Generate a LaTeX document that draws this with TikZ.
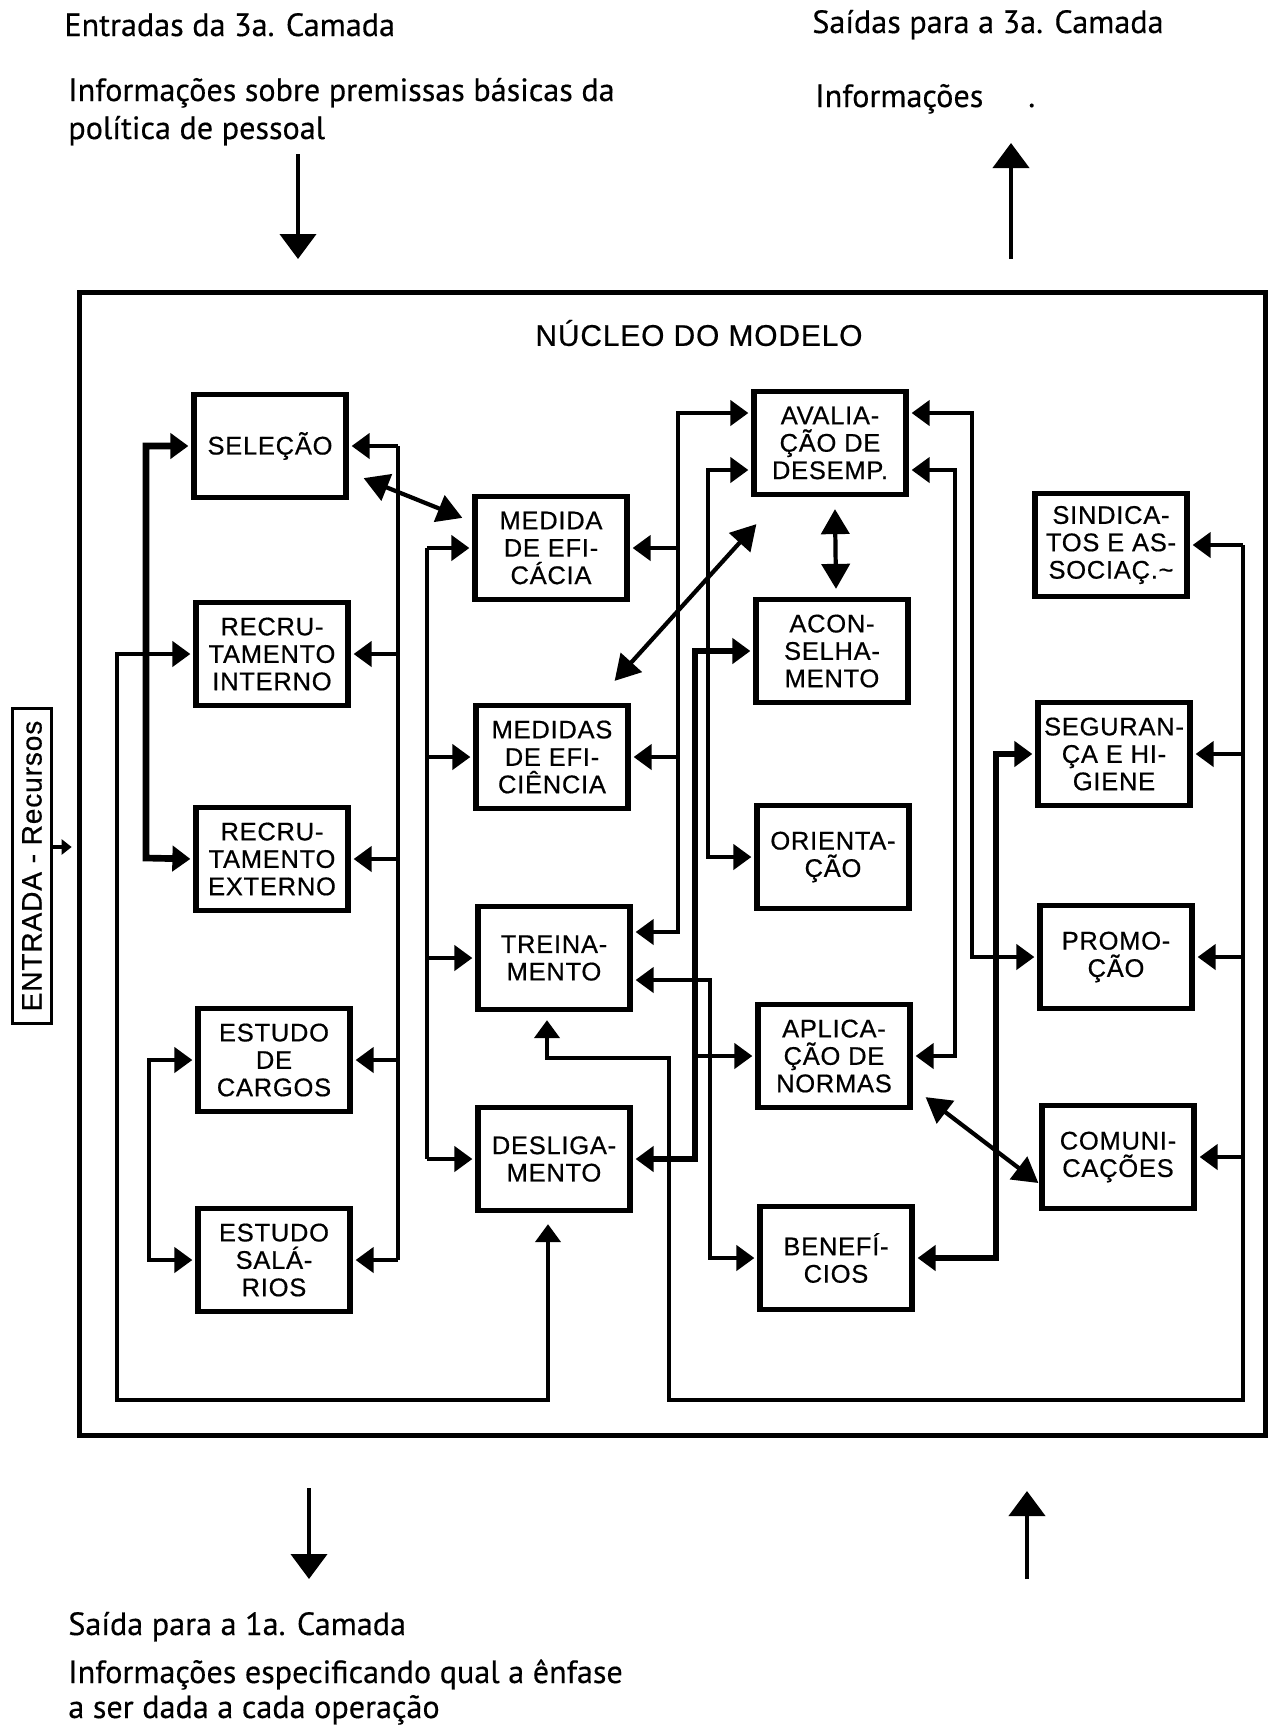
\documentclass[tikz,border=0pt]{standalone}
\usepackage{fontspec}
\setmainfont{Liberation Sans}
\newfontfamily\boxfont[LetterSpace=3,FakeBold=0.6]{Liberation Sans}
\newfontfamily\headfont[FakeBold=0.4]{PT Sans}
\usetikzlibrary{arrows.meta,calc}

\begin{document}
\begin{tikzpicture}[
  x=0.02cm, y=-0.02cm,
  box/.style={draw,line width=3pt,minimum width=3.04cm,minimum height=2.06cm,inner sep=1pt,align=center,font=\boxfont\fontsize{14.5}{15.6}\selectfont},
  head/.style={anchor=base west,inner sep=0pt,font=\headfont\fontsize{18.3}{21.6}\selectfont},
  link/.style={line width=2.4pt},
  bus/.style={line width=3.8pt},
  tip/.style={-{Triangle[length=0.36cm,width=0.5cm]},shorten >=0.06cm},
  both/.style={{Triangle[length=0.36cm,width=0.5cm]}-{Triangle[length=0.36cm,width=0.5cm]},shorten >=0.06cm,shorten <=0.06cm},
  dbl/.style={{Triangle[length=0.5cm,width=0.56cm]}-{Triangle[length=0.5cm,width=0.56cm]},line width=2.4pt},
  big/.style={-{Triangle[length=0.5cm,width=0.72cm]},line width=2.4pt}
]
\useasboundingbox (0,0) rectangle (1273,1725);

% texts outside the core
\node[head] (in3) at (64,36) {Entradas da 3a. Camada};
\node[head] (inf1) at (68,101) {Informações sobre premissas básicas da};
\node[head] (inf2) at (68,139) {política de pessoal};
\node[head] (out3) at (812,33) {Saídas para a 3a. Camada};
\node[head] (outinf) at (815,107) {Informações\hspace{0.9cm}.};
\node[head] (out1) at (68,1635) {Saída para a 1a. Camada};
\node[head] (enf1) at (68,1683) {Informações especificando qual a ênfase};
\node[head] (enf2) at (68,1718) {a ser dada a cada operação};

% core frame
\node[draw,line width=2.8pt,minimum width=23.74cm,minimum height=22.88cm] (core) at (672.5,864) {};
\node[font=\boxfont\fontsize{17}{20}\selectfont] (title) at (699,333) {NÚCLEO DO MODELO};
\node[draw,line width=1.6pt,rotate=90,minimum width=6.3cm,minimum height=0.78cm,inner sep=0pt,font=\boxfont\fontsize{16}{18}\selectfont] (ent) at (32,866) {ENTRADA - Recursos};

% boxes
\node[box] (sel) at (270,446) {SELEÇÃO};
\node[box] (ri) at (272,654) {RECRU-\\TAMENTO\\INTERNO};
\node[box] (re) at (272,859) {RECRU-\\TAMENTO\\EXTERNO};
\node[box] (ec) at (274,1060) {ESTUDO\\DE\\CARGOS};
\node[box] (es) at (274,1260) {ESTUDO\\SALÁ-\\RIOS};
\node[box] (mef) at (551,548) {MEDIDA\\DE EFI-\\CÁCIA};
\node[box] (mec) at (552,757) {MEDIDAS\\DE EFI-\\CIÊNCIA};
\node[box] (tre) at (554,958) {TREINA-\\MENTO};
\node[box] (des) at (554,1159) {DESLIGA-\\MENTO};
\node[box] (ava) at (830,443) {AVALIA-\\ÇÃO DE\\DESEMP.};
\node[box] (aco) at (832,651) {ACON-\\SELHA-\\MENTO};
\node[box] (ori) at (833,857) {ORIENTA-\\ÇÃO};
\node[box] (apl) at (834,1056) {APLICA-\\ÇÃO DE\\NORMAS};
\node[box] (ben) at (836,1258) {BENEFÍ-\\CIOS};
\node[box] (sin) at (1111,545) {SINDICA-\\TOS E AS-\\SOCIAÇ.\~{}};
\node[box] (seg) at (1114,754) {SEGURAN-\\ÇA E HI-\\GIENE};
\node[box] (pro) at (1116,957) {PROMO-\\ÇÃO};
\node[box] (com) at (1118,1157) {COMUNI-\\CAÇÕES};

% arrows outside the core
\coordinate (tA) at (298,154);
\coordinate (tB) at (298,259);
\coordinate (tC) at (1011,259);
\coordinate (tD) at (1011,143);
\coordinate (bA) at (309,1488);
\coordinate (bB) at (309,1579);
\coordinate (bC) at (1027,1579);
\coordinate (bD) at (1027,1491);
\draw[big] (tA) -- (tB);
\draw[big] (tC) -- (tD);
\draw[big] (bA) -- (bB);
\draw[big] (bC) -- (bD);
\coordinate (ea) at (53,847);
\draw[-{Triangle[length=0.2cm,width=0.3cm]},line width=1.8pt,shorten >=0.1cm] (ea) -- (ea -| core.west);

% column 1
\coordinate (l1) at (146,858);
\draw[both,bus] (sel.west) -| (l1) -- (re.west);
\coordinate (l2) at (149,1260);
\draw[both,link] (ec.west) -| (l2) -- (es.west);
\coordinate (r1) at (398,446);
\draw[link] (r1) -- (r1 |- es.east);
\foreach \n in {sel,ri,re,ec,es}
  \draw[tip,link] (r1 |- \n.east) -- (\n.east);
\coordinate (fl) at (117,1400);
\draw[both,link,shorten >=0.22cm] (ri.west) -| (fl) -| ($(des.south)+(-6,0)$);

% column 2
\coordinate (l3) at (427,548);
\draw[link] (l3) -- (l3 |- des.west);
\foreach \n in {mef,mec,tre,des}
  \draw[tip,link] (l3 |- \n.west) -- (\n.west);
\draw[dbl] ($(sel.south east)+(15,-22)$) -- ($(mef.north west)+(-10,24)$);

% column 3, left side
\coordinate (a1) at (678,413);
\coordinate (a2) at (678,932);
\draw[both,link] (a1 -| ava.west) -- (a1) -- (a2) -- (a2 -| tre.east);
\draw[tip,link] (mef.east -| a1) -- (mef.east);
\draw[tip,link] (mec.east -| a1) -- (mec.east);
\coordinate (b1) at (708,470);
\draw[both,link] (b1 -| ava.west) -- (b1) |- (ori.west);
\coordinate (c1) at (695,1159);
\draw[both,bus] (aco.west) -| (c1) -- (des.east);
\draw[tip,link] (apl.west -| c1) -- (apl.west);
\coordinate (d1) at (710,980);
\draw[both,link] (d1 -| tre.east) -- (d1) |- (ben.west);
\draw[dbl] ($(mec.north east)+(-16,-22)$) -- ($(ava.south west)+(5,27)$);
\draw[dbl] ($(ava.south)+(5,12)$) -- ($(aco.north)+(4,-8)$);

% loop under the core, column 4
\coordinate (e1) at (547,1058);
\coordinate (e2) at (669,1400);
\coordinate (e3) at (1243,545);
\draw[tip,link,shorten >=0.16cm] (e3) |- (e2) |- (e1) -- (e1 |- tre.south);
\foreach \n in {sin,seg,pro,com}
  \draw[tip,link] (e3 |- \n.east) -- (\n.east);

% column 3, right side
\coordinate (f1) at (972,413);
\draw[both,link] (f1 -| ava.east) -- (f1) |- (pro.west);
\coordinate (g1) at (955,470);
\draw[both,link] (g1 -| ava.east) -- (g1) |- (apl.east);
\coordinate (h1) at (996,1258);
\draw[both,bus] (seg.west) -| (h1) -- (ben.east);
\draw[dbl] ($(apl.south east)+(13,-13)$) -- ($(com.west)+(-1,26)$);
\end{tikzpicture}
\end{document}
